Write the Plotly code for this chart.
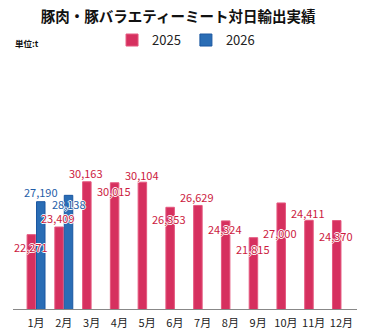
import plotly.graph_objects as go

months = ["1月", "2月", "3月", "4月", "5月", "6月", "7月", "8月", "9月", "10月", "11月", "12月"]
values_2025 = [22271, 23409, 30163, 30015, 30104, 26353, 26629, 24324, 21815, 27000, 24411, 24370]
months_2026 = ["1月", "2月"]
values_2026 = [27190, 28138]

# vertical offset (px) of each value label relative to its bar top (style only)
label_shift_2025 = [-12, 9, 9, -8, 7, -12, 8, -8, -11, -30, 7, -15]
label_shift_2026 = [10, -9]

RED = "#d6305f"
BLUE = "#2a6db5"
RED_TXT = "#cc1a3e"
BLUE_TXT = "#1f5ea8"
FONT = "Noto Sans CJK JP"
HALO = "white 1px 0px 0px, white -1px 0px 0px, white 0px 1px 0px, white 0px -1px 0px"

fig = go.Figure()
fig.add_trace(go.Bar(
    name="2025", x=months, y=values_2025,
    marker=dict(color=RED, line=dict(color="#e4587f", width=1)),
    hoverinfo="x+y",
))
fig.add_trace(go.Bar(
    name="2026", x=months_2026, y=values_2026,
    marker=dict(color=BLUE, line=dict(color="#1a56a0", width=1)),
    hoverinfo="x+y",
))

annotations = []
for m, v, s in zip(months, values_2025, label_shift_2025):
    annotations.append(dict(x=m, y=v, xref="x", yref="y", text=f"{v:,}", showarrow=False,
                            xshift=-5.5, yshift=s, yanchor="middle",
                            font=dict(family=FONT, size=11, color=RED_TXT, shadow=HALO)))
for m, v, s in zip(months_2026, values_2026, label_shift_2026):
    annotations.append(dict(x=m, y=v, xref="x", yref="y", text=f"{v:,}", showarrow=False,
                            xshift=5, yshift=s, yanchor="middle",
                            font=dict(family=FONT, size=11, color=BLUE_TXT, shadow=HALO)))
annotations.append(dict(text="<b>単位:t</b>", x=0, xref="paper", xanchor="left",
                        y=1 + 17 / 249, yref="paper", yanchor="middle", showarrow=False,
                        font=dict(family=FONT, size=8.5, color="#111")))

fig.update_layout(
    width=371, height=334,
    margin=dict(l=13, r=14, t=60, b=25, autoexpand=False),
    paper_bgcolor="white", plot_bgcolor="white",
    barmode="group", bargap=0.32, bargroupgap=0.1,
    font=dict(family=FONT, color="#222"),
    title=dict(text="<b>豚肉・豚バラエティーミート対日輸出実績</b>", x=0.48, xanchor="center",
               y=1 - 17 / 334, yanchor="middle", font=dict(size=14.5, color="#111")),
    legend=dict(orientation="h", x=0.503, xanchor="center", y=1.08, yanchor="middle",
                font=dict(size=13, color="#222"), itemwidth=30, tracegroupgap=0),
    showlegend=True,
    annotations=annotations,
)
fig.update_xaxes(
    categoryorder="array", categoryarray=months, automargin=False,
    range=[-0.83, 11.56], showline=True, linecolor="#888", linewidth=1,
    ticks="", showgrid=False, tickfont=dict(size=11, color="#222"),
    ticklabelstandoff=4,
)
fig.update_yaxes(range=[11164, 48350], visible=False, showgrid=False, automargin=False)

fig.write_html("out.html")
